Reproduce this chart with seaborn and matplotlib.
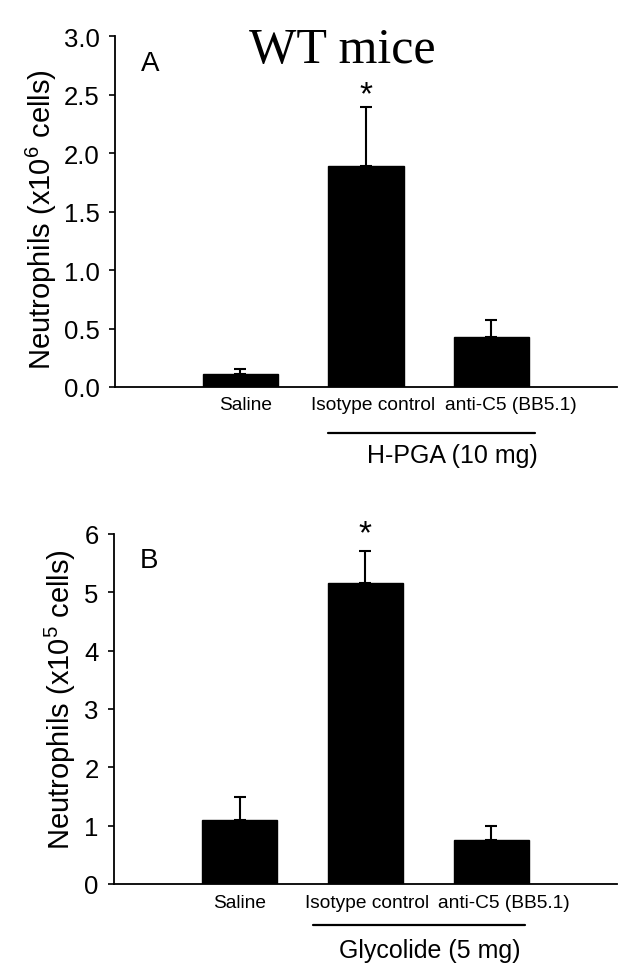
import numpy as np
import pandas as pd
import matplotlib
matplotlib.use("Agg")
import matplotlib.pyplot as plt
import matplotlib.transforms as mtransforms
import seaborn as sns

# data
groups = ["Saline", "Isotype control", "anti-C5 (BB5.1)"]
hpga_mean = [0.11, 1.89, 0.43]
hpga_sem = [0.04, 0.51, 0.14]
glyc_mean = [1.09, 5.16, 0.76]
glyc_sem = [0.40, 0.54, 0.23]
star_a = 2.43
star_b = 5.85

sns.set_style("ticks")
plt.rcParams["font.family"] = ["Liberation Sans", "DejaVu Sans"]
plt.rcParams["mathtext.default"] = "regular"
for k in ["text.color", "axes.labelcolor", "xtick.color", "ytick.color",
          "axes.edgecolor"]:
    plt.rcParams[k] = "black"

fig = plt.figure(figsize=(6.36, 9.78), dpi=100)
axA = fig.add_axes([0.1808, 0.6033, 0.789, 0.3584])
axB = fig.add_axes([0.1792, 0.0951, 0.7909, 0.3579])


def panel(ax, means, sems, star_y, ylim, yticks, fmt, ylabel, letter,
          group_line, label_y, label_shift, lab_coords):
    df = pd.DataFrame({"group": groups, "value": means})
    sns.barplot(data=df, x="group", y="value", color="black", saturation=1,
                width=0.6, errorbar=None, edgecolor="black", ax=ax)
    pos = np.arange(len(groups))
    ax.errorbar(pos, means, yerr=[np.zeros(len(sems)), sems], fmt="none",
                ecolor="black", elinewidth=1.5, capsize=4.5, capthick=1.5)
    ax.text(1, star_y, "*", ha="center", va="baseline", fontsize=24,
            clip_on=False)
    ax.set_xlim(-1, 3)
    ax.set_ylim(*ylim)
    ax.set_yticks(yticks)
    ax.set_yticklabels([fmt.format(t) for t in yticks])
    ax.set_xlabel("")
    ax.set_ylabel(ylabel, fontsize=21)
    ax.yaxis.set_label_coords(*lab_coords)
    sns.despine(ax=ax)
    for s in ["left", "bottom"]:
        ax.spines[s].set_linewidth(1.3)
    ax.tick_params(axis="y", length=4, width=1.2, pad=7, labelsize=18.5)
    ax.tick_params(axis="x", length=0, pad=label_y, labelsize=13.8)
    for lab, dx in zip(ax.get_xticklabels(), label_shift):
        lab.set_transform(lab.get_transform() +
                          mtransforms.ScaledTranslation(dx / 100, 0, fig.dpi_scale_trans))
    ax.text(0.052, 0.905, letter, transform=ax.transAxes, fontsize=20,
            ha="left", va="baseline")
    tr = ax.get_xaxis_transform()
    x0, x1, ly, txt, tx, ty = group_line
    ax.plot([x0, x1], [ly, ly], color="black", lw=1.6, transform=tr,
            clip_on=False)
    ax.text(tx, ty, txt, transform=tr, ha="center", va="center", fontsize=18)


panel(axA, hpga_mean, hpga_sem, star_a, (0, 3.0), np.arange(0, 3.01, 0.5),
      "{:.1f}", "Neutrophils (x10$^{6}$ cells)", "A",
      (0.70, 2.35, -0.131, "H-PGA (10 mg)", 1.69, -0.194), 6.5, [5, 7, 20],
      (-0.112, 0.48))
panel(axB, glyc_mean, glyc_sem, star_b, (0, 6), np.arange(0, 7, 1),
      "{:.0f}", "Neutrophils (x10$^{5}$ cells)", "B",
      (0.58, 2.27, -0.117, "Glycolide (5 mg)", 1.51, -0.189), 7.5, [0, 2, 13],
      (-0.072, 0.53))

fig.text(0.538, 0.9356, "WT mice", family=["Liberation Serif", "DejaVu Serif"],
         fontsize=36, ha="center", va="baseline")

fig.savefig("out.png", dpi=100)
